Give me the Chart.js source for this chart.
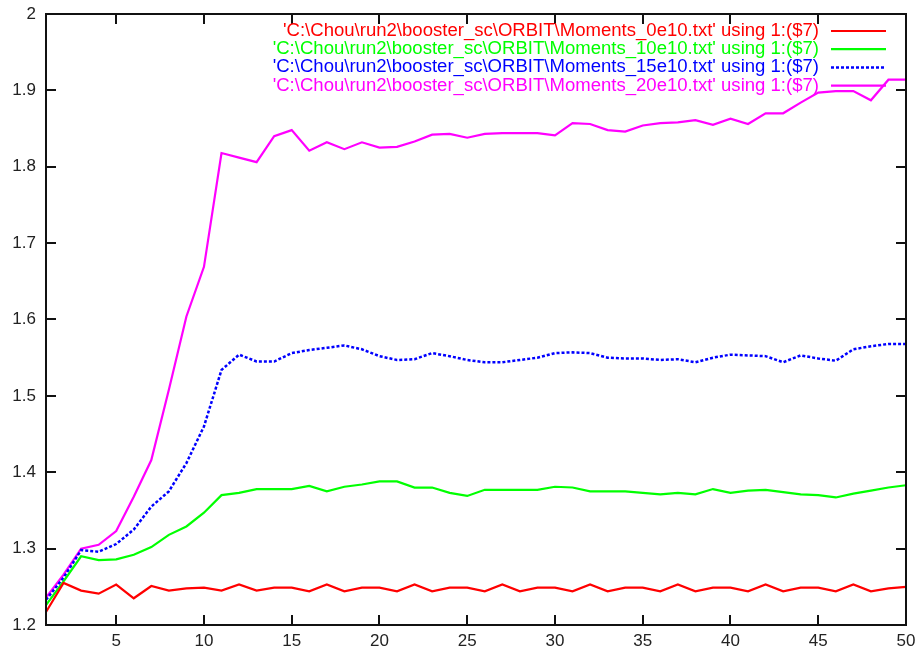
<!DOCTYPE html>
<html>
<head>
<meta charset="utf-8">
<script src="https://cdn.jsdelivr.net/npm/chart.js@4.4.1/dist/chart.umd.min.js"></script>
<style>
  html, body { margin: 0; padding: 0; background: #fff; }
  #wrap { width: 920px; height: 654px; }
</style>
</head>
<body>
<div id="wrap"><canvas id="momentsChart" width="920" height="654"></canvas></div>
<script>
// turn number (x axis)
const turns = [1, 2, 3, 4, 5, 6, 7, 8, 9, 10, 11, 12, 13, 14, 15, 16, 17, 18, 19, 20,
  21, 22, 23, 24, 25, 26, 27, 28, 29, 30, 31, 32, 33, 34, 35, 36, 37, 38, 39, 40,
  41, 42, 43, 44, 45, 46, 47, 48, 49, 50];

const labels = [
  "'C:\\Chou\\run2\\booster_sc\\ORBIT\\Moments_0e10.txt' using 1:($7)",
  "'C:\\Chou\\run2\\booster_sc\\ORBIT\\Moments_10e10.txt' using 1:($7)",
  "'C:\\Chou\\run2\\booster_sc\\ORBIT\\Moments_15e10.txt' using 1:($7)",
  "'C:\\Chou\\run2\\booster_sc\\ORBIT\\Moments_20e10.txt' using 1:($7)"
];

const m0e10 = [1.217, 1.255, 1.245, 1.241, 1.253, 1.235, 1.251, 1.245, 1.248, 1.249,
  1.245, 1.253, 1.245, 1.249, 1.249, 1.244, 1.253, 1.244, 1.249, 1.249,
  1.244, 1.253, 1.244, 1.249, 1.249, 1.244, 1.253, 1.244, 1.249, 1.249,
  1.244, 1.253, 1.244, 1.249, 1.249, 1.244, 1.253, 1.244, 1.249, 1.249,
  1.244, 1.253, 1.244, 1.249, 1.249, 1.244, 1.253, 1.244, 1.248, 1.250];

const m10e10 = [1.226, 1.257, 1.290, 1.285, 1.286, 1.292, 1.302, 1.318, 1.329, 1.347,
  1.370, 1.373, 1.378, 1.378, 1.378, 1.382, 1.375, 1.381, 1.384, 1.388,
  1.388, 1.380, 1.380, 1.373, 1.369, 1.377, 1.377, 1.377, 1.377, 1.381,
  1.380, 1.375, 1.375, 1.375, 1.373, 1.371, 1.373, 1.371, 1.378, 1.373,
  1.376, 1.377, 1.374, 1.371, 1.370, 1.367, 1.372, 1.376, 1.380, 1.383];

const m15e10 = [1.233, 1.262, 1.298, 1.296, 1.306, 1.325, 1.355, 1.375, 1.412, 1.460,
  1.534, 1.554, 1.545, 1.545, 1.556, 1.560, 1.563, 1.566, 1.561, 1.552,
  1.547, 1.548, 1.556, 1.552, 1.547, 1.544, 1.544, 1.547, 1.550, 1.556,
  1.557, 1.556, 1.550, 1.549, 1.549, 1.547, 1.548, 1.544, 1.550, 1.554,
  1.553, 1.552, 1.544, 1.553, 1.549, 1.546, 1.561, 1.565, 1.568, 1.568];

const m20e10 = [1.236, 1.266, 1.300, 1.305, 1.323, 1.368, 1.416, 1.508, 1.604, 1.669,
  1.818, 1.812, 1.806, 1.840, 1.848, 1.821, 1.832, 1.823, 1.832, 1.825,
  1.826, 1.833, 1.842, 1.843, 1.838, 1.843, 1.844, 1.844, 1.844, 1.841,
  1.857, 1.856, 1.848, 1.846, 1.854, 1.857, 1.858, 1.861, 1.855, 1.863,
  1.856, 1.870, 1.870, 1.884, 1.897, 1.899, 1.899, 1.887, 1.914, 1.914];

const xTicks = [5, 10, 15, 20, 25, 30, 35, 40, 45, 50];
const yTicks = [1.2, 1.3, 1.4, 1.5, 1.6, 1.7, 1.8, 1.9, 2.0];

const FONT = 'Liberation Sans, Arial, sans-serif';

function pts(vals) {
  return turns.map((t, i) => ({ x: t, y: vals[i] }));
}

function series(i, vals, color, dash) {
  return {
    label: labels[i],
    data: pts(vals),
    borderColor: color,
    backgroundColor: color,
    borderWidth: dash ? 2.5 : 2.2,
    borderDash: dash || [],
    pointRadius: 0,
    tension: 0,
    fill: false
  };
}

// gnuplot style frame with inward ticks on all sides, and key at top right
const framePlugin = {
  id: 'frame',
  afterDatasetsDraw(chart) {
    const ctx = chart.ctx;
    const a = chart.chartArea;
    const xs = chart.scales.x, ys = chart.scales.y;
    ctx.save();
    ctx.strokeStyle = '#111';
    ctx.lineWidth = 2;
    ctx.setLineDash([]);
    ctx.strokeRect(a.left, a.top, a.right - a.left, a.bottom - a.top);
    ctx.beginPath();
    xTicks.forEach(v => {
      const px = Math.round(xs.getPixelForValue(v));
      ctx.moveTo(px, a.bottom); ctx.lineTo(px, a.bottom - 10);
      ctx.moveTo(px, a.top); ctx.lineTo(px, a.top + 10);
    });
    yTicks.forEach(v => {
      const py = Math.round(ys.getPixelForValue(v));
      ctx.moveTo(a.left, py); ctx.lineTo(a.left + 10, py);
      ctx.moveTo(a.right, py); ctx.lineTo(a.right - 10, py);
    });
    ctx.stroke();

    // key: text right aligned, sample line on the right
    ctx.font = '18px ' + FONT;
    ctx.textAlign = 'right';
    ctx.textBaseline = 'middle';
    const sx = 536 / ctx.measureText(chart.data.datasets[0].label).width;
    chart.data.datasets.forEach((ds, i) => {
      const y = 31 + i * 18.2;
      ctx.save();
      ctx.translate(819, y);
      ctx.scale(sx, 1);
      ctx.fillStyle = ds.borderColor;
      ctx.fillText(ds.label, 0, 0);
      ctx.restore();
      ctx.strokeStyle = ds.borderColor;
      ctx.lineWidth = ds.borderWidth;
      ctx.setLineDash(ds.borderDash);
      ctx.beginPath();
      ctx.moveTo(831, y);
      ctx.lineTo(886, y);
      ctx.stroke();
    });
    ctx.restore();
  }
};

const ctx = document.getElementById('momentsChart').getContext('2d');
const chart = new Chart(ctx, {
  type: 'line',
  data: {
    datasets: [
      series(0, m0e10, '#ff0000'),
      series(1, m10e10, '#00ff00'),
      series(2, m15e10, '#0000ff', [3, 2]),
      series(3, m20e10, '#ff00ff')
    ]
  },
  options: {
    responsive: false,
    animation: false,
    layout: { padding: { top: 14, right: 14, left: 0, bottom: 0 } },
    plugins: {
      legend: { display: false },
      tooltip: { enabled: false }
    },
    scales: {
      x: {
        type: 'linear',
        min: 1,
        max: 50,
        afterBuildTicks: (scale) => { scale.ticks = xTicks.map(v => ({ value: v })); },
        afterFit: (scale) => {
          scale.height = 29;
          scale.paddingLeft = 0;
          scale.paddingRight = 0;
        },
        grid: { display: false, drawTicks: false },
        border: { display: false },
        ticks: {
          padding: 6,
          color: '#222',
          font: { family: FONT, size: 17 },
          maxRotation: 0
        }
      },
      y: {
        min: 1.2,
        max: 2.0,
        afterBuildTicks: (scale) => { scale.ticks = yTicks.map(v => ({ value: v })); },
        afterFit: (scale) => {
          scale.width = 46;
          scale.paddingTop = 0;
          scale.paddingBottom = 0;
        },
        grid: { display: false, drawTicks: false },
        border: { display: false },
        ticks: {
          padding: 10,
          color: '#222',
          font: { family: FONT, size: 17 },
          callback: (v) => String(Math.round(v * 10) / 10)
        }
      }
    }
  },
  plugins: [framePlugin]
});
</script>
</body>
</html>
